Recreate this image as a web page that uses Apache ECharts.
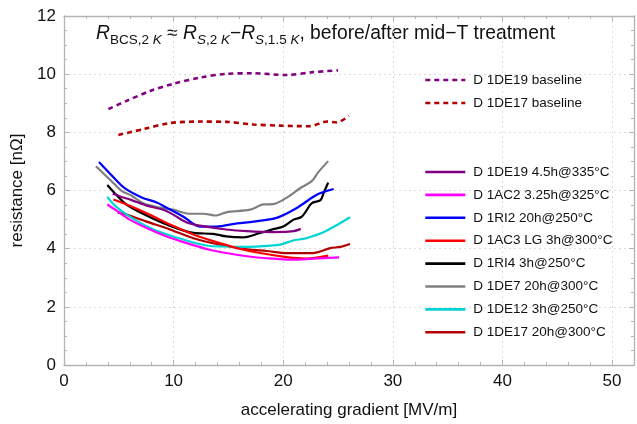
<!DOCTYPE html>
<html>
<head>
<meta charset="utf-8">
<script src="https://cdn.jsdelivr.net/npm/echarts@6/dist/echarts.min.js"></script>
<style>html,body{margin:0;padding:0;background:#fff}#c{width:637px;height:424px}</style>
</head>
<body>
<div id="c"></div>
<script>
// ---- data ----
const xTicks = [0, 10, 20, 30, 40, 50];
const yTicks = [0, 2, 4, 6, 8, 10, 12];

const seriesNames = [
  "D 1DE19 baseline", "D 1DE17 baseline",
  "D 1DE19 4.5h@335°C", "D 1AC2 3.25h@325°C", "D 1RI2 20h@250°C", "D 1AC3 LG 3h@300°C",
  "D 1RI4 3h@250°C", "D 1DE7 20h@300°C", "D 1DE12 3h@250°C", "D 1DE17 20h@300°C"
];

const de19Base = [[4.05,8.80],[5.7,9.08],[7.85,9.42],[9.97,9.67],[12.4,9.88],[14.8,10.01],[17.3,10.03],[20.3,9.97],[22.7,10.07],[25.0,10.13]];
const de17Base = [[4.96,7.91],[7.24,8.11],[9.67,8.32],[12.4,8.37],[14.8,8.36],[17.3,8.27],[19.7,8.23],[22.4,8.21],[24.0,8.37],[24.9,8.34],[26.0,8.57]];
const de19Trt = [[4.44,5.90],[5.41,5.76],[6.17,5.67],[7.54,5.48],[9.06,5.34],[9.97,5.17],[11.2,4.90],[12.4,4.79],[14.8,4.66],[16.7,4.60],[19.1,4.57],[20.9,4.60],[21.6,4.68]];
const ac2Trt = [[3.95,5.52],[4.8,5.31],[6.0,5.00],[7.54,4.71],[9.37,4.42],[11.2,4.19],[13.0,3.99],[14.8,3.85],[16.7,3.74],[18.5,3.67],[20.9,3.62],[22.7,3.66],[25.1,3.70]];
const ri2Trt = [[3.19,6.98],[4.5,6.46],[5.57,6.07],[7.09,5.76],[8.45,5.59],[9.37,5.41],[10.9,5.10],[12.4,4.76],[13.9,4.76],[15.8,4.87],[17.3,4.93],[19.4,5.06],[21.2,5.39],[23.1,5.86],[24.6,6.05]];
const ac3Trt = [[4.5,5.69],[5.72,5.52],[7.54,5.22],[9.67,4.83],[11.8,4.49],[13.6,4.26],[15.8,4.02],[17.9,3.85],[20.3,3.71],[22.1,3.66],[24.1,3.76]];
const ri4Trt = [[3.95,6.19],[4.65,5.90],[5.72,5.51],[7.54,5.14],[9.37,4.83],[11.8,4.54],[13.6,4.51],[14.8,4.42],[16.4,4.39],[17.9,4.54],[19.1,4.67],[20.0,4.76],[20.9,4.99],[21.7,5.10],[22.6,5.56],[23.4,5.67],[23.7,5.93],[24.1,6.27]];
const de7Trt = [[2.92,6.83],[4.2,6.37],[5.26,5.99],[6.17,5.82],[7.24,5.56],[8.76,5.41],[9.97,5.34],[11.5,5.20],[12.7,5.20],[13.9,5.14],[14.8,5.25],[16.97,5.34],[18.2,5.52],[19.1,5.53],[20.6,5.82],[21.5,6.07],[22.6,6.32],[23.2,6.63],[24.1,7.01]];
const de12Trt = [[3.95,5.78],[4.65,5.48],[5.72,5.17],[7.85,4.71],[9.97,4.42],[13.0,4.11],[16.1,4.06],[17.9,4.08],[19.7,4.14],[20.9,4.28],[22.1,4.36],[23.8,4.59],[26.1,5.08]];
const de17Trt = [[4.9,5.24],[5.72,5.17],[7.54,4.93],[9.67,4.66],[11.8,4.36],[13.9,4.16],[16.7,3.98],[18.5,3.92],[20.3,3.85],[22.7,3.85],[24.3,4.02],[25.2,4.06],[26.1,4.16]];

const seriesData = [de19Base, de17Base, de19Trt, ac2Trt, ri2Trt, ac3Trt, ri4Trt, de7Trt, de12Trt, de17Trt];
const colors = ["#800080", "#b00000", "#800080", "#ff00ff", "#0000ff", "#ff0000", "#000000", "#808080", "#00d4d4", "#b00000"];

// ---- chart ----
const FONT = "Liberation Sans, Arial, sans-serif";
const chart = echarts.init(document.getElementById('c'), null, {renderer: 'canvas'});
const axisCol = "#b4b4b4";
const gridLine = {show: true, lineStyle: {color: "#dcdcdc", type: [2, 3], width: 1}};

function xAx(pos, labels) {
  return {
    type: 'value', position: pos, min: 0, max: 52, interval: 10,
    axisLine: {show: true, onZero: false, lineStyle: {color: axisCol, width: 1.3}},
    axisTick: {show: true, inside: true, length: 5, lineStyle: {color: axisCol}},
    minorTick: {show: true, splitNumber: 5, length: 3, lineStyle: {color: axisCol}},
    axisLabel: {show: labels, color: "#111", fontSize: 17, fontFamily: FONT, margin: 8,
      formatter: v => xTicks.includes(v) ? String(v) : ''},
    splitLine: labels ? gridLine : {show: false},
    name: labels ? "accelerating gradient [MV/m]" : "",
    nameLocation: 'middle', nameGap: 37,
    nameTextStyle: {color: "#111", fontSize: 17, fontFamily: FONT}
  };
}
function yAx(pos, labels) {
  return {
    type: 'value', position: pos, min: 0, max: 12, interval: 2,
    axisLine: {show: true, onZero: false, lineStyle: {color: axisCol, width: 1.3}},
    axisTick: {show: true, inside: true, length: 5, lineStyle: {color: axisCol}},
    minorTick: {show: true, splitNumber: 4, length: 3, lineStyle: {color: axisCol}},
    axisLabel: {show: labels, color: "#111", fontSize: 17, fontFamily: FONT, margin: 8,
      formatter: v => yTicks.includes(v) ? String(v) : ''},
    splitLine: labels ? gridLine : {show: false},
    name: labels ? "resistance [nΩ]" : "",
    nameLocation: 'middle', nameGap: 36,
    nameTextStyle: {color: "#111", fontSize: 17, fontFamily: FONT}
  };
}

const series = seriesData.map((d, i) => ({
  name: seriesNames[i], type: 'line', data: d,
  xAxisIndex: 0, yAxisIndex: 0,
  showSymbol: false, symbol: 'none', smooth: 0.3,
  lineStyle: {color: colors[i], width: i < 2 ? 2.6 : 2.2, type: i < 2 ? [5, 4] : 'solid'},
  itemStyle: {color: colors[i]},
  z: i < 2 ? 2 : 3 + (seriesData.length - i),
  silent: true
}));

const legendText = {color: "#111", fontSize: 13.5, fontFamily: FONT, padding: [0, 0, 0, 3]};
const legendCommon = {orient: 'vertical', left: 424, itemWidth: 40, itemHeight: 14, padding: 0,
  textStyle: legendText, selectedMode: false, itemStyle: {opacity: 0}, lineStyle: {width: 2.6}};
const option = {
  animation: false,
  color: colors,
  grid: {left: 64, right: 2, top: 16, bottom: 56, containLabel: false},
  xAxis: [xAx('bottom', true), xAx('top', false)],
  yAxis: [yAx('left', true), yAx('right', false)],
  legend: [
    Object.assign({data: seriesNames.slice(0, 2), top: 73, itemGap: 9}, legendCommon),
    Object.assign({data: seriesNames.slice(2), top: 165, itemGap: 8.9}, legendCommon)
  ],
  graphic: [{
    type: 'text', left: 96, top: 24,
    style: {
      text: "{i|R}{s|BCS,2 }{si|K}{n| ≈ }{i|R}{si|S}{s|,2 }{si|K}{n|−}{i|R}{si|S}{s|,1.5 }{si|K}{n|, before/after mid−T treatment}",
      rich: {
        i: {fontSize: 19.3, fontStyle: 'italic', fontFamily: FONT, fill: '#111', verticalAlign: 'bottom'},
        n: {fontSize: 19.3, fontFamily: FONT, fill: '#111', verticalAlign: 'bottom'},
        s: {fontSize: 13.5, fontFamily: FONT, fill: '#111', verticalAlign: 'bottom', padding: [0, 0, -4, 0]},
        si: {fontSize: 13.5, fontStyle: 'italic', fontFamily: FONT, fill: '#111', verticalAlign: 'bottom', padding: [0, 0, -4, 0]}
      }
    }
  }],
  series: series
};
chart.setOption(option);
</script>
</body>
</html>
